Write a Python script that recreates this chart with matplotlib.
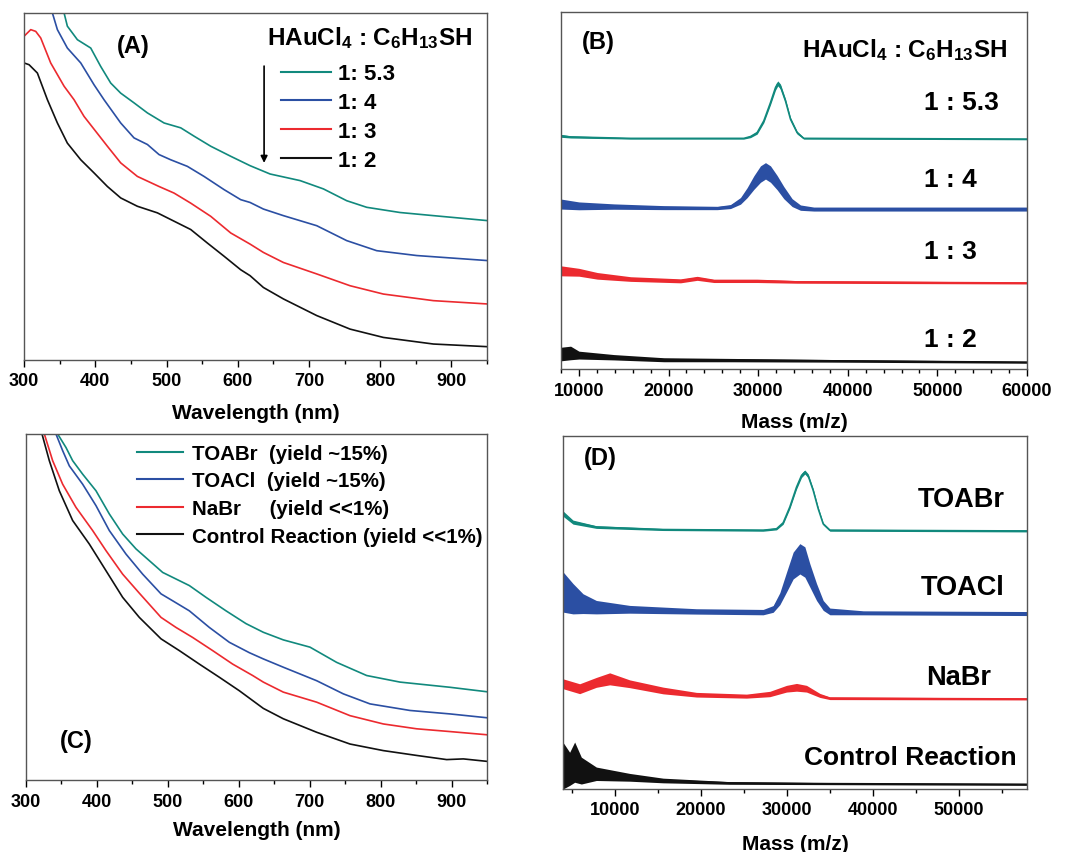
import matplotlib
matplotlib.use("Agg")
import matplotlib.pyplot as plt
from matplotlib.lines import Line2D
from matplotlib.ticker import MultipleLocator
import numpy as np

plt.rcParams['font.family'] = ['Liberation Sans', 'DejaVu Sans']
plt.rcParams['font.weight'] = 'bold'
plt.rcParams['axes.labelweight'] = 'bold'
plt.rcParams['mathtext.fontset'] = 'custom'
plt.rcParams['mathtext.rm'] = 'Liberation Sans:bold'
plt.rcParams['mathtext.it'] = 'Liberation Sans:bold'
plt.rcParams['mathtext.bf'] = 'Liberation Sans:bold'

GREEN = '#11897d'
BLUE = '#2b4fa3'
RED = '#ec2a2f'
BLACK = '#111111'
SPINE = '#555555'

# (A) UV-vis, HAuCl4 : C6H13SH ratios  (absorbance, arbitrary offset units)
a_green_nm = [350, 356.2, 360.8, 374.9, 393.6, 407.6, 421.7, 435.7, 454.4, 473.2, 496.6, 520.0, 538.7, 562.1, 590.2, 617.3, 645.4, 687.5, 720.3, 753.0, 781.1, 827.9, 874.7, 954]
a_green_ab = [1.06, 1.0, 0.962, 0.923, 0.899, 0.846, 0.798, 0.769, 0.741, 0.712, 0.683, 0.669, 0.645, 0.616, 0.587, 0.560, 0.536, 0.517, 0.493, 0.459, 0.440, 0.425, 0.416, 0.401]
a_blue_nm = [334, 339.8, 346.8, 360.8, 379.6, 398.3, 412.3, 435.7, 454.4, 473.2, 489.5, 505.9, 529.3, 552.7, 580.8, 604.2, 617.3, 636.0, 664.1, 710.9, 753.0, 795.1, 851.3, 954]
a_blue_ab = [1.05, 1.0, 0.952, 0.899, 0.856, 0.793, 0.750, 0.683, 0.640, 0.621, 0.592, 0.577, 0.558, 0.529, 0.491, 0.462, 0.454, 0.435, 0.416, 0.387, 0.344, 0.315, 0.301, 0.286]
a_red_nm = [300, 309.4, 316.4, 323.4, 337.4, 356.2, 370.2, 384.2, 400.6, 417.0, 435.7, 459.1, 489.5, 510.6, 534.0, 562.1, 590.2, 617.3, 636.0, 664.1, 710.9, 757.7, 804.5, 874.7, 954]
a_red_ab = [0.933, 0.952, 0.947, 0.928, 0.856, 0.789, 0.750, 0.702, 0.659, 0.616, 0.568, 0.529, 0.500, 0.481, 0.452, 0.414, 0.366, 0.334, 0.310, 0.281, 0.248, 0.214, 0.190, 0.171, 0.161]
a_black_nm = [300, 307, 318.7, 332.8, 346.8, 360.8, 379.6, 398.3, 417.0, 435.7, 459.1, 487.2, 510.6, 534.0, 557.4, 580.8, 604.2, 617.3, 636.0, 664.1, 710.9, 757.7, 804.5, 874.7, 954]
a_black_ab = [0.856, 0.851, 0.827, 0.750, 0.683, 0.625, 0.577, 0.539, 0.500, 0.467, 0.443, 0.424, 0.400, 0.376, 0.337, 0.299, 0.260, 0.243, 0.209, 0.176, 0.128, 0.089, 0.065, 0.046, 0.038]
a_labels = ['1: 5.3', '1: 4', '1: 3', '1: 2']

# (C) UV-vis, phase transfer agents
c_green_nm = [338, 344.7, 356.4, 365.8, 379.9, 398.7, 417.5, 436.3, 455.1, 473.9, 492.7, 511.5, 530.3, 553.8, 582.0, 610.2, 634.6, 662.8, 700.4, 738.0, 780.3, 827.3, 897.8, 954.2]
c_green_ab = [1.05, 1.0, 0.961, 0.923, 0.884, 0.836, 0.769, 0.711, 0.668, 0.634, 0.600, 0.581, 0.562, 0.528, 0.489, 0.452, 0.427, 0.405, 0.384, 0.340, 0.302, 0.283, 0.268, 0.254]
c_blue_nm = [336, 342.3, 351.7, 361.1, 379.9, 398.7, 417.5, 441.0, 464.5, 490.4, 506.8, 530.3, 558.5, 586.7, 614.9, 634.6, 662.8, 709.8, 747.4, 785.0, 841.4, 897.8, 954.2]
c_blue_ab = [1.05, 1.0, 0.952, 0.908, 0.855, 0.793, 0.721, 0.653, 0.595, 0.538, 0.518, 0.489, 0.441, 0.398, 0.368, 0.350, 0.326, 0.287, 0.249, 0.220, 0.201, 0.191, 0.179]
c_red_nm = [320, 325.9, 337.6, 351.7, 370.5, 394.0, 412.8, 436.3, 459.8, 490.4, 511.5, 535.0, 563.2, 591.4, 619.6, 634.6, 662.8, 709.8, 756.8, 803.8, 850.8, 897.8, 954.2]
c_red_ab = [1.04, 1.0, 0.923, 0.855, 0.788, 0.721, 0.663, 0.595, 0.540, 0.470, 0.441, 0.412, 0.374, 0.335, 0.302, 0.283, 0.254, 0.225, 0.186, 0.162, 0.148, 0.140, 0.130]
c_black_nm = [316, 322.6, 332.9, 347.0, 365.8, 389.3, 412.8, 436.3, 459.8, 490.4, 516.2, 544.4, 572.6, 600.8, 634.6, 662.8, 709.8, 756.8, 803.8, 850.8, 893.1, 916.6, 954.2]
c_black_ab = [1.04, 1.0, 0.923, 0.836, 0.750, 0.682, 0.605, 0.528, 0.470, 0.408, 0.374, 0.335, 0.297, 0.258, 0.207, 0.177, 0.138, 0.104, 0.085, 0.071, 0.059, 0.061, 0.053]
c_labels = ['TOABr  (yield ~15%)', 'TOACl  (yield ~15%)', 'NaBr     (yield <<1%)', 'Control Reaction (yield <<1%)']

# (B) MALDI mass spectra: centre of the trace and half-width of the noise band
b_green_mz = [8000, 9071, 15762, 28401, 29145, 29888, 30632, 31375, 31933, 32193, 32491, 33048, 33606, 34349, 35093, 60000]
b_green_i = [0.653, 0.650, 0.646, 0.646, 0.651, 0.662, 0.695, 0.746, 0.788, 0.800, 0.791, 0.751, 0.700, 0.662, 0.646, 0.644]
b_green_w = [0.004, 0.003, 0.002, 0.002, 0.003, 0.004, 0.005, 0.006, 0.007, 0.007, 0.007, 0.006, 0.005, 0.004, 0.002, 0.002]
b_blue_mz = [8000, 10000, 13903, 19480, 25428, 26914, 28030, 28773, 29517, 30260, 30818, 31375, 32119, 32862, 33792, 34721, 36208, 60000]
b_blue_i = [0.462, 0.457, 0.455, 0.452, 0.451, 0.455, 0.471, 0.494, 0.522, 0.546, 0.555, 0.546, 0.522, 0.494, 0.466, 0.452, 0.448, 0.448]
b_blue_w = [0.014, 0.011, 0.0075, 0.0056, 0.0047, 0.0056, 0.0093, 0.014, 0.019, 0.023, 0.023, 0.023, 0.020, 0.017, 0.011, 0.0075, 0.0056, 0.0056]
b_red_mz = [8000, 10000, 12045, 15762, 21338, 23197, 25056, 29888, 34349, 60000]
b_red_i = [0.275, 0.271, 0.261, 0.252, 0.247, 0.254, 0.247, 0.247, 0.244, 0.241]
b_red_w = [0.014, 0.011, 0.0093, 0.0065, 0.0056, 0.0056, 0.0047, 0.0047, 0.0037, 0.0028]
b_black_mz = [8000, 9071, 10000, 13903, 19480, 26914, 38067, 60000]
b_black_i = [0.042, 0.045, 0.039, 0.033, 0.026, 0.025, 0.023, 0.019]
b_black_w = [0.019, 0.019, 0.011, 0.0075, 0.0056, 0.0047, 0.0037, 0.0028]
b_labels = ['1 : 5.3', '1 : 4', '1 : 3', '1 : 2']

# (D) MALDI mass spectra, phase transfer agents
d_green_mz = [4000, 5155, 7868, 15620, 27248, 28798, 29574, 30349, 31124, 31705, 32093, 32481, 33062, 33643, 34225, 35000, 57900]
d_green_i = [0.780, 0.756, 0.742, 0.735, 0.733, 0.737, 0.754, 0.799, 0.855, 0.888, 0.898, 0.887, 0.846, 0.794, 0.751, 0.733, 0.731]
d_green_w = [0.0076, 0.0057, 0.0038, 0.0028, 0.0028, 0.003, 0.004, 0.0047, 0.0057, 0.0057, 0.0057, 0.0057, 0.0047, 0.004, 0.003, 0.0028, 0.0028]
d_blue_mz = [4000, 5155, 6318, 7868, 11744, 19496, 27248, 28411, 29186, 29961, 30736, 31512, 32093, 32674, 33450, 34225, 35000, 38876, 57900]
d_blue_i = [0.558, 0.539, 0.525, 0.515, 0.509, 0.503, 0.501, 0.510, 0.539, 0.586, 0.633, 0.652, 0.643, 0.605, 0.558, 0.520, 0.503, 0.499, 0.497]
d_blue_w = [0.057, 0.043, 0.028, 0.019, 0.011, 0.0076, 0.0076, 0.0095, 0.017, 0.028, 0.038, 0.043, 0.043, 0.033, 0.024, 0.014, 0.0095, 0.0057, 0.0057]
d_red_mz = [4000, 5930, 7868, 9419, 11744, 15620, 19496, 25310, 28023, 29961, 31124, 32287, 33837, 35000, 57900]
d_red_i = [0.298, 0.284, 0.302, 0.312, 0.298, 0.279, 0.267, 0.263, 0.269, 0.284, 0.288, 0.284, 0.265, 0.257, 0.255]
d_red_w = [0.014, 0.014, 0.014, 0.017, 0.011, 0.0095, 0.0066, 0.0057, 0.0076, 0.0095, 0.011, 0.0095, 0.0057, 0.0038, 0.0028]
d_black_mz = [4000, 4767, 5349, 6124, 7868, 11744, 15620, 23372, 35000, 57900]
d_black_i = [0.066, 0.057, 0.076, 0.052, 0.043, 0.033, 0.024, 0.017, 0.015, 0.013]
d_black_w = [0.066, 0.047, 0.057, 0.038, 0.019, 0.011, 0.0066, 0.0038, 0.0028, 0.0028]
d_labels = ['TOABr', 'TOACl', 'NaBr', 'Control Reaction']

ratio_title = r'HAuCl$_4$ : C$_6$H$_{13}$SH'


def style_axes(ax):
    for s in ax.spines.values():
        s.set_color(SPINE)
        s.set_linewidth(1.0)
    ax.set_yticks([])
    ax.tick_params(axis='x', which='major', direction='out', length=5, width=1,
                   labelsize=13, pad=4, colors='black')
    ax.tick_params(axis='x', which='minor', direction='out', length=3, width=1)
    ax.set_ylim(0, 1)


def ms_trace(ax, mz, inten, half, color):
    mz = np.array(mz)
    inten = np.array(inten)
    half = np.array(half)
    ax.fill_between(mz, inten - half, inten + half, color=color, lw=0)
    ax.plot(mz, inten, color=color, lw=1.2)


fig = plt.figure(figsize=(10.69, 8.53), dpi=100)

# ---- (A)
axA = fig.add_axes([0.0225, 0.5768, 0.4331, 0.4068])
style_axes(axA)
axA.set_xlim(300, 950)
axA.xaxis.set_major_locator(MultipleLocator(100))
axA.xaxis.set_minor_locator(MultipleLocator(50))
for nm, ab, c in [(a_green_nm, a_green_ab, GREEN), (a_blue_nm, a_blue_ab, BLUE),
                  (a_red_nm, a_red_ab, RED), (a_black_nm, a_black_ab, BLACK)]:
    axA.plot(nm, ab, color=c, lw=1.2)
axA.set_xlabel('Wavelength (nm)', fontsize=15, labelpad=10)
axA.text(0.235, 0.905, '(A)', transform=axA.transAxes, fontsize=17, ha='center', va='center')
axA.text(0.968, 0.93, ratio_title, transform=axA.transAxes, fontsize=17.5, ha='right', va='center')
hA = [Line2D([], [], color=c, lw=1.5) for c in [GREEN, BLUE, RED, BLACK]]
axA.legend(hA, a_labels, loc='upper left', bbox_to_anchor=(0.555, 0.855), frameon=False,
           fontsize=16, handlelength=2.25, handletextpad=0.3, labelspacing=0.35,
           borderpad=0, borderaxespad=0)
axA.annotate('', xy=(637, 0.56), xytext=(637, 0.855),
             arrowprops=dict(arrowstyle='-|>', color='black', lw=1.2, mutation_scale=10))

# ---- (B)
axB = fig.add_axes([0.5248, 0.5662, 0.4359, 0.4186])
style_axes(axB)
axB.set_xlim(8000, 60000)
axB.xaxis.set_major_locator(MultipleLocator(10000))
axB.xaxis.set_minor_locator(MultipleLocator(2000))
ms_trace(axB, b_green_mz, b_green_i, b_green_w, GREEN)
ms_trace(axB, b_blue_mz, b_blue_i, b_blue_w, BLUE)
ms_trace(axB, b_red_mz, b_red_i, b_red_w, RED)
ms_trace(axB, b_black_mz, b_black_i, b_black_w, BLACK)
axB.set_xlabel('Mass (m/z)', fontsize=15, labelpad=9.5)
axB.text(0.081, 0.917, '(B)', transform=axB.transAxes, fontsize=17, ha='center', va='center')
axB.text(0.958, 0.897, ratio_title, transform=axB.transAxes, fontsize=17.5, ha='right', va='center')
for lab, y in zip(b_labels, [0.748, 0.532, 0.330, 0.083]):
    axB.text(0.779, y, lab, transform=axB.transAxes, fontsize=19, ha='left', va='center')

# ---- (C)
axC = fig.add_axes([0.0243, 0.0844, 0.4313, 0.4056])
style_axes(axC)
axC.set_xlim(300, 950)
axC.xaxis.set_major_locator(MultipleLocator(100))
axC.xaxis.set_minor_locator(MultipleLocator(50))
for nm, ab, c in [(c_green_nm, c_green_ab, GREEN), (c_blue_nm, c_blue_ab, BLUE),
                  (c_red_nm, c_red_ab, RED), (c_black_nm, c_black_ab, BLACK)]:
    axC.plot(nm, ab, color=c, lw=1.2)
axC.set_xlabel('Wavelength (nm)', fontsize=15, labelpad=7.5)
axC.text(0.11, 0.115, '(C)', transform=axC.transAxes, fontsize=17, ha='center', va='center')
hC = [Line2D([], [], color=c, lw=1.5) for c in [GREEN, BLUE, RED, BLACK]]
axC.legend(hC, c_labels, loc='upper left', bbox_to_anchor=(0.240, 0.972), frameon=False,
           fontsize=14.8, handlelength=2.25, handletextpad=0.45, labelspacing=0.42,
           borderpad=0, borderaxespad=0)

# ---- (D)
axD = fig.add_axes([0.5267, 0.0739, 0.4340, 0.4138])
style_axes(axD)
axD.set_xlim(4000, 57900)
axD.xaxis.set_major_locator(MultipleLocator(10000))
axD.xaxis.set_minor_locator(MultipleLocator(5000))
ms_trace(axD, d_green_mz, d_green_i, d_green_w, GREEN)
ms_trace(axD, d_blue_mz, d_blue_i, d_blue_w, BLUE)
ms_trace(axD, d_red_mz, d_red_i, d_red_w, RED)
ms_trace(axD, d_black_mz, d_black_i, d_black_w, BLACK)
axD.set_xlabel('Mass (m/z)', fontsize=15, labelpad=11)
axD.text(0.08, 0.94, '(D)', transform=axD.transAxes, fontsize=17, ha='center', va='center')
for lab, x, y, fs in zip(d_labels, [0.859, 0.861, 0.852, 0.748], [0.822, 0.572, 0.317, 0.091],
                         [19.5, 19.5, 19.5, 19]):
    axD.text(x, y, lab, transform=axD.transAxes, fontsize=fs, ha='center', va='center')

fig.savefig('out.png', dpi=100)
